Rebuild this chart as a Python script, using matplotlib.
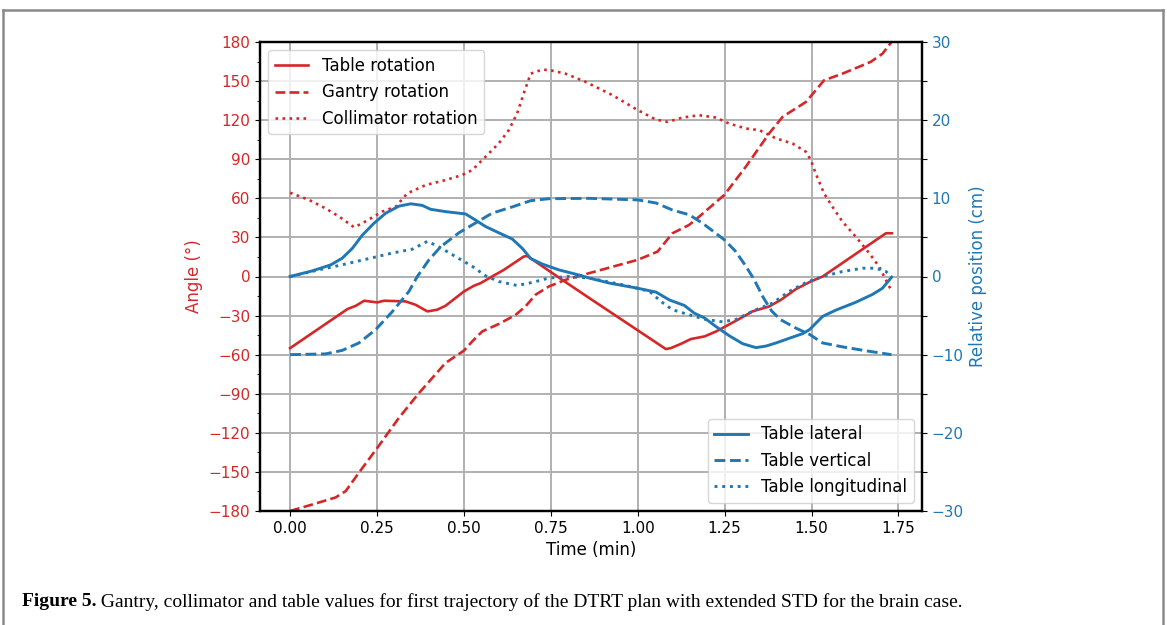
import numpy as np
import matplotlib
matplotlib.use("Agg")
import matplotlib.pyplot as plt
from matplotlib.lines import Line2D
from matplotlib.ticker import MultipleLocator, FuncFormatter

# ---- data ----
# time in minutes, angles in degrees
t_table = [0.0, 0.165, 0.189, 0.213, 0.251, 0.27, 0.332, 0.361, 0.395, 0.423, 0.447, 0.5,
           0.529, 0.548, 0.581, 0.615, 0.672, 0.682, 0.783, 0.861, 1.081, 1.096, 1.125,
           1.153, 1.192, 1.226, 1.288, 1.33, 1.378, 1.412, 1.455, 1.498, 1.532, 1.714, 1.731]
table_rot = [-55, -25, -22.5, -18.6, -19.9, -18.6, -19.1, -21.7, -26.8, -25.5, -22.5, -11.5,
             -7.1, -5.1, 0, 5.1, 15.3, 15.8, -2.6, -16.6, -55.7, -54.9, -51.6,
             -48, -46, -42.1, -33.2, -26.8, -23, -17.9, -9.7, -3.8, 0, 33.2, 33.2]

t_gantry = [0.0, 0.064, 0.131, 0.16, 0.198, 0.251, 0.313, 0.371, 0.409, 0.447, 0.5, 0.524,
            0.553, 0.6, 0.648, 0.677, 0.706, 0.744, 0.792, 0.861, 1.0, 1.057, 1.1, 1.148,
            1.177, 1.249, 1.311, 1.378, 1.417, 1.484, 1.536, 1.589, 1.67, 1.704, 1.73]
gantry_rot = [-180, -175, -169.6, -164.7, -150.6, -131.5, -108.5, -89.4, -77.9, -66.4, -56.9, -49.8,
              -42.1, -36.5, -29.6, -23.0, -14.0, -7.7, -2.6, 2.6, 12.8, 19.1, 33.2, 39.6,
              46, 62.6, 84.3, 109.8, 122.6, 134, 150.6, 155.7, 164.7, 171, 180]

t_coll = [0.0, 0.055, 0.102, 0.141, 0.184, 0.208, 0.265, 0.304, 0.337, 0.39, 0.447, 0.495,
          0.524, 0.562, 0.6, 0.629, 0.653, 0.672, 0.692, 0.725, 0.749, 0.792, 0.85, 0.928,
          1.0, 1.052, 1.086, 1.129, 1.177, 1.225, 1.263, 1.311, 1.35, 1.398, 1.445, 1.484,
          1.498, 1.512, 1.536, 1.56, 1.589, 1.627, 1.666, 1.694, 1.709, 1.73]
coll_rot = [64.3, 58.7, 52.3, 46, 37.8, 40.9, 49.8, 53.6, 63.8, 70.2, 74, 77.9,
            81.7, 91.9, 102.1, 112.3, 125.1, 140.4, 155.7, 158.8, 158.3, 155.7, 149.4, 139.1,
            127.7, 120.5, 118.7, 122, 123.8, 122, 117.4, 113.6, 112.3, 106, 102.1, 95.7,
            89.4, 79.1, 63.8, 53.6, 42.1, 30.6, 17.9, 7.7, 0, -11]

# table translations in cm
t_lat = [0.0, 0.064, 0.117, 0.15, 0.179, 0.208, 0.241, 0.275, 0.313, 0.347, 0.38, 0.404,
         0.447, 0.505, 0.534, 0.562, 0.6, 0.639, 0.668, 0.692, 0.725, 0.773, 0.83, 0.861,
         0.919, 1.0, 1.053, 1.091, 1.134, 1.163, 1.192, 1.225, 1.264, 1.302, 1.34, 1.369,
         1.398, 1.436, 1.475, 1.494, 1.532, 1.57, 1.627, 1.675, 1.704, 1.73]
table_lat = [0, 0.72, 1.49, 2.34, 3.6, 5.3, 6.8, 8.1, 9.0, 9.3, 9.1, 8.6,
             8.3, 8.0, 7.2, 6.4, 5.6, 4.8, 3.6, 2.3, 1.6, 0.85, 0.2, -0.2,
             -0.85, -1.5, -2.0, -3.0, -3.7, -4.7, -5.3, -6.4, -7.6, -8.6, -9.1, -8.9,
             -8.5, -7.9, -7.3, -6.8, -5.1, -4.3, -3.3, -2.3, -1.5, -0.1]

t_vert = [0.0, 0.102, 0.15, 0.198, 0.246, 0.294, 0.342, 0.366, 0.399, 0.433, 0.486, 0.524,
          0.581, 0.639, 0.692, 0.744, 0.861, 1.0, 1.053, 1.1, 1.148, 1.187, 1.249, 1.28,
          1.31, 1.335, 1.36, 1.385, 1.41, 1.455, 1.494, 1.532, 1.589, 1.656, 1.73]
table_vert = [-10, -9.9, -9.45, -8.5, -6.8, -4.5, -1.9, 0, 2.1, 3.8, 5.6, 6.6,
              8.1, 8.9, 9.7, 9.95, 10, 9.8, 9.4, 8.5, 7.9, 6.8, 4.7, 3.3,
              1.4, -0.4, -2.6, -4.4, -5.5, -6.6, -7.4, -8.5, -9.0, -9.5, -10]

t_long = [0.0, 0.083, 0.15, 0.227, 0.294, 0.352, 0.395, 0.428, 0.476, 0.524, 0.562, 0.6,
          0.653, 0.696, 0.744, 0.802, 0.861, 0.957, 1.034, 1.067, 1.1, 1.148, 1.196, 1.244,
          1.282, 1.34, 1.388, 1.436, 1.484, 1.532, 1.589, 1.647, 1.685, 1.714, 1.73]
table_long = [0, 0.85, 1.5, 2.3, 3.0, 3.5, 4.5, 3.8, 2.55, 1.3, 0.1, -0.64,
              -1.15, -0.77, -0.2, 0, -0.2, -1.06, -1.9, -3.2, -4.25, -4.9, -5.5, -5.8,
              -5.5, -4.25, -3.4, -1.9, -0.77, 0, 0.64, 1.06, 1.06, 0.64, 0]

caption_bold = "Figure 5."
caption_rest = (" Gantry, collimator and table values for first trajectory of the DTRT plan "
                "with extended STD for the brain case.")

red = "#d62728"
blue = "#1f77b4"

fig = plt.figure(figsize=(11.67, 6.25), dpi=100)
ax = fig.add_axes([0.2228, 0.1824, 0.5672, 0.7504])
ax2 = ax.twinx()

l1, = ax.plot(t_table, table_rot, color=red, lw=1.9, ls="-", label="Table rotation")
l2, = ax.plot(t_gantry, gantry_rot, color=red, lw=1.9, ls="--", label="Gantry rotation")
l3, = ax.plot(t_coll, coll_rot, color=red, lw=1.9, ls=":", label="Collimator rotation")

b1, = ax2.plot(t_lat, table_lat, color=blue, lw=2.1, ls="-", label="Table lateral")
b2, = ax2.plot(t_vert, table_vert, color=blue, lw=2.1, ls="--", label="Table vertical")
b3, = ax2.plot(t_long, table_long, color=blue, lw=2.1, ls=":", label="Table longitudinal")

fs = 11
ax.set_ylim(-180, 180)
ax2.set_ylim(-30, 30)
ax.set_xticks([0, 0.25, 0.5, 0.75, 1.0, 1.25, 1.5, 1.75])
ax.xaxis.set_major_formatter(FuncFormatter(lambda v, p: "%.2f" % v))
ax.yaxis.set_major_locator(MultipleLocator(30))
ax.yaxis.set_minor_locator(MultipleLocator(15))
ax2.yaxis.set_major_locator(MultipleLocator(5))
ax2.yaxis.set_major_formatter(FuncFormatter(
    lambda v, p: ("%d" % v).replace("-", "\u2212") if round(v) % 10 == 0 else ""))

ax.tick_params(axis="y", colors=red, labelsize=fs)
ax.tick_params(axis="y", which="both", color="black")
ax.tick_params(axis="x", labelsize=fs)
ax2.tick_params(axis="y", colors=blue, labelsize=fs)
ax2.tick_params(axis="y", color="black")

ax.grid(True, color="#b0b0b0", lw=1.4)
ax.set_axisbelow(True)

ax.set_xlabel("Time (min)", fontsize=12)
ax.set_ylabel("Angle (°)", fontsize=12, color=red)
ax2.set_ylabel("Relative position (cm)", fontsize=12, color=blue)

for a in (ax, ax2):
    for s in a.spines.values():
        s.set_linewidth(1.6)

ax.legend(handles=[l1, l2, l3], loc="upper left", fontsize=12)
ax2.legend(handles=[b1, b2, b3], loc="lower right", fontsize=12)

# caption and frame around the figure
fig.text(22 / 1167, 1 - 602 / 625, caption_bold, fontsize=14, family="Liberation Serif",
         weight="bold", va="center", ha="left")
fig.canvas.draw()
r = fig.texts[-1].get_window_extent()
fig.text(r.x1 / 1167, 1 - 602 / 625, caption_rest, fontsize=14, family="Liberation Serif",
         va="center", ha="left")

border = dict(color="#8a8a8a", lw=1.8, transform=fig.transFigure)
fig.add_artist(Line2D([3 / 1167, 1163 / 1167], [1 - 10 / 625, 1 - 10 / 625], **border))
fig.add_artist(Line2D([3 / 1167, 3 / 1167], [0, 1 - 10 / 625], **border))
fig.add_artist(Line2D([1163 / 1167, 1163 / 1167], [0, 1 - 10 / 625], **border))

fig.savefig("out.png", dpi=100)
